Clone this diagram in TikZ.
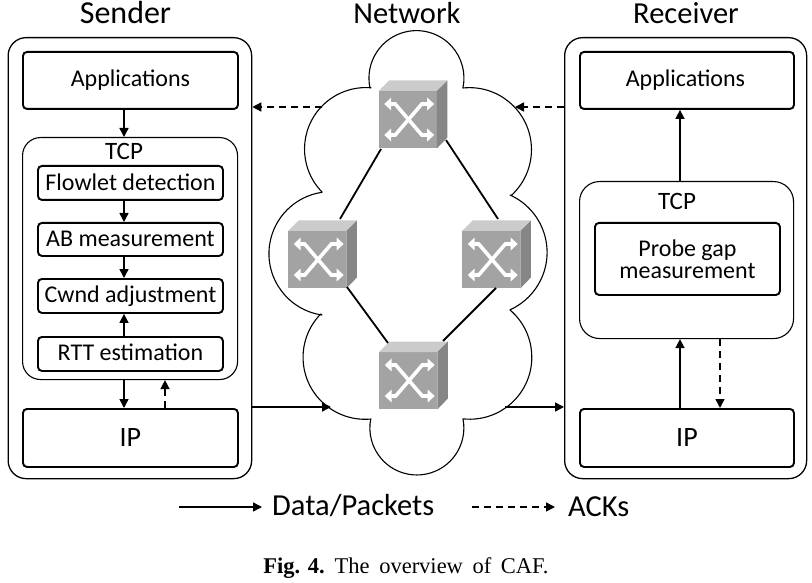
\documentclass[tikz,border=0pt]{standalone}
\usepackage{fontspec}
\setmainfont{Carlito}
\newfontfamily\capfont{Liberation Serif}
\usetikzlibrary{arrows.meta,calc}
\tikzset{
  outerbox/.style={draw,line width=1.3pt,rounded corners=18pt,anchor=north west,inner sep=0pt},
  tcpbox/.style={draw,line width=1.1pt,rounded corners=18pt,anchor=north west,inner sep=0pt},
  blockbox/.style={draw,line width=1.9pt,rounded corners=4pt,anchor=north west,inner sep=0pt,align=center,font=\fontsize{24}{22}\selectfont},
  iplabel/.style={font=\fontsize{28}{32}\selectfont},
  title/.style={font=\fontsize{30.5}{34}\selectfont},
  legendtext/.style={font=\fontsize{30.5}{34}\selectfont,anchor=west,inner sep=0pt},
  flow/.style={line width=1.5pt,-{Triangle[length=9pt,width=9pt]}},
  ackflow/.style={line width=1.5pt,dash pattern=on 7pt off 5pt,-{Triangle[length=9pt,width=9pt]}},
  plainlink/.style={line width=1.8pt},
  cloudline/.style={line width=1.1pt,line join=round},
  swfront/.style={fill=swmid,inner sep=0pt,minimum width=58pt,minimum height=57pt,anchor=north west},
  swarrow/.style={draw=white,line width=3.6pt,{Triangle[length=7pt,width=12.5pt]}-{Triangle[length=7pt,width=12.5pt]}},
}
\definecolor{swmid}{HTML}{A3A3A3}
\definecolor{swtop}{HTML}{CBCBCB}
\definecolor{swside}{HTML}{868686}
\newcommand{\switchbox}[3]{%
  \node[swfront] (#1) at (#2,#3) {};
  \fill[swtop] (#1.north west) -- ++(10.5,-10.5) -- ++(58,0) -- (#1.north east) -- cycle;
  \fill[swside] (#1.north east) -- ++(10.5,-10.5) -- ++(0,57) -- (#1.south east) -- cycle;
  \draw[swarrow] ($(#1.north west)+(5.7,13)$) -- ++(11,0) -- ++(26.6,31) -- ++(12.4,0);
  \draw[swarrow] ($(#1.north west)+(5.7,44)$) -- ++(11,0) -- ++(26.6,-31) -- ++(12.4,0);
}
\begin{document}
\begin{tikzpicture}[x=1pt,y=-1pt]
\useasboundingbox (0,0) rectangle (812,583);
% titles
\node[title,font=\fontsize{32}{34}\selectfont] (tsend) at (125.5,13) {Sender};
\node[title] (tnet) at (407,13) {Network};
\node[title] (trecv) at (686,13) {Receiver};
% sender
\node[outerbox,minimum width=243.5pt,minimum height=441pt] (sender) at (7.5,37) {};
\node[blockbox,minimum width=215pt,minimum height=57pt] (sapp) at (22,51) {\raisebox{-1.5pt}{Applications}};
\node[tcpbox,minimum width=215pt,minimum height=242pt] (stcp) at (22,137) {};
\node[font=\fontsize{25}{29}\selectfont] (stcpl) at (124,151) {TCP};
\node[blockbox,minimum width=185pt,minimum height=34pt] (flowlet) at (37,165) {\raisebox{1pt}{Flowlet detection}};
\node[blockbox,minimum width=185pt,minimum height=33pt] (ab) at (37,222) {\raisebox{1.5pt}{AB measurement}};
\node[blockbox,minimum width=185pt,minimum height=34pt] (cwnd) at (37,278) {Cwnd adjustment};
\node[blockbox,minimum width=185pt,minimum height=34pt] (rtt) at (37,336) {\raisebox{2.5pt}{RTT estimation}};
\node[blockbox,iplabel,minimum width=215pt,minimum height=58pt] (sip) at (22,408) {IP};
% receiver
\node[outerbox,minimum width=242pt,minimum height=441pt] (recv) at (564,37) {};
\node[blockbox,minimum width=214pt,minimum height=57pt] (rapp) at (579,51) {\hspace{-3pt}\raisebox{-1.5pt}{Applications}};
\node[tcpbox,rounded corners=20pt,minimum width=214pt,minimum height=157pt] (rtcp) at (579,181) {};
\node[font=\fontsize{25}{29}\selectfont] (rtcpl) at (677,201) {TCP};
\node[blockbox,minimum width=185pt,minimum height=72pt] (probe) at (594,222) {Probe gap\\measurement};
\node[blockbox,iplabel,minimum width=214pt,minimum height=58pt] (rip) at (579,408) {IP};
% cloud
\draw[cloudline]
  (370,88) arc[start angle=168,end angle=372,radius=47.5]
  -- (463,88) arc[start angle=264,end angle=408,radius=62]
  -- (510,195) arc[start angle=294.3,end angle=425.7,radius=63]
  -- (510,310) arc[start angle=310.4,end angle=456.4,radius=62]
  -- (463,419) arc[start angle=-11,end angle=191,radius=47]
  -- (371,419) arc[start angle=84.5,end angle=224.3,radius=62]
  -- (322,315) arc[start angle=98.3,end angle=261.7,radius=62]
  -- (322,192) arc[start angle=135.7,end angle=274.6,radius=61.5]
  -- cycle;
% switches
\switchbox{swtopn}{378.5}{91}
\switchbox{swleft}{288}{231}
\switchbox{swright}{462}{231}
\switchbox{swbot}{379}{352}
\coordinate (l1a) at (381,149); \coordinate (l1b) at (340,219);
\coordinate (l2a) at (446,140); \coordinate (l2b) at (498,219);
\coordinate (l3a) at (347,287); \coordinate (l3b) at (388,343);
\coordinate (l4a) at (496,288); \coordinate (l4b) at (443,341);
\draw[plainlink] (l1a) -- (l1b);
\draw[plainlink] (l2a) -- (l2b);
\draw[plainlink] (l3a) -- (l3b);
\draw[plainlink] (l4a) -- (l4b);
% x positions of vertical links
\coordinate (sx) at (124,0);
\coordinate (sd) at (165,0);
\coordinate (rx) at (680,0);
\coordinate (rd) at (720,0);
\draw[flow] (sapp.south -| sx) -- (stcp.north -| sx);
\draw[flow] (flowlet.south -| sx) -- (ab.north -| sx);
\draw[flow] (ab.south -| sx) -- (cwnd.north -| sx);
\draw[flow] (rtt.north -| sx) -- (cwnd.south -| sx);
\draw[flow] (stcp.south -| sx) -- (sip.north -| sx);
\draw[ackflow] (sip.north -| sd) -- (stcp.south -| sd);
\draw[flow] (rtcp.north -| rx) -- (rapp.south -| rx);
\draw[flow] (rip.north -| rx) -- (rtcp.south -| rx);
\draw[ackflow] (rtcp.south -| rd) -- (rip.north -| rd);
% horizontal links
\coordinate (ackleft) at (322,107);
\coordinate (ackright) at (515,107);
\coordinate (datain) at (331,407);
\coordinate (dataout) at (505,407);
\draw[ackflow] (ackleft) -- (sender.east |- ackleft);
\draw[ackflow] (recv.west |- ackright) -- (ackright);
\draw[flow] (sender.east |- datain) -- (datain);
\draw[flow] (dataout) -- (recv.west |- dataout);
% legend
\node[legendtext] (ldata) at (272,506) {Data/Packets};
\node[legendtext] (lack) at (568,507) {ACKs};
\coordinate (lg1) at (179,507);
\coordinate (lg2) at (472,507);
\draw[flow] (lg1) -- ([xshift=-10pt]ldata.west |- lg1);
\draw[ackflow] (lg2) -- ([xshift=-13pt]lack.west |- lg2);
% caption
\node[font=\capfont\fontsize{22.5}{26}\selectfont,inner sep=0pt] (caption) at (406,568) {\textbf{Fig. 4.}\hspace{10pt}The\hspace{4pt} overview\hspace{4pt} of\hspace{4pt} CAF.};
\end{tikzpicture}
\end{document}
